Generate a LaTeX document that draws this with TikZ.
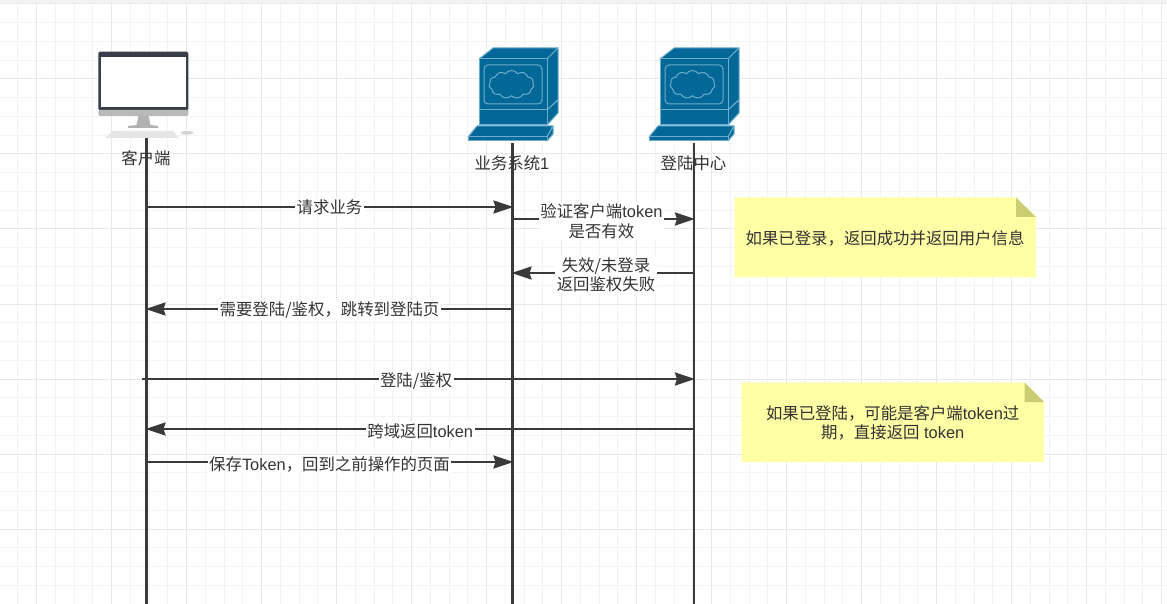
\documentclass[tikz,border=0pt]{standalone}
\usepackage{fontspec}
\setmainfont{Liberation Sans}
\newfontfamily\zhfont{Noto Sans CJK SC}
\newcommand{\zh}[1]{{\zhfont #1}}
\usetikzlibrary{arrows.meta,shapes.symbols}
\definecolor{gridminor}{HTML}{F3F3F3}
\definecolor{gridmajor}{HTML}{E8E8E8}
\definecolor{ink}{HTML}{3A3A3A}
\definecolor{txt}{HTML}{333333}
\definecolor{srv}{HTML}{036897}
\definecolor{srvline}{HTML}{6BADCC}
\definecolor{notefill}{HTML}{FFFFA6}
\definecolor{notefold}{HTML}{CCCC75}
\definecolor{bezel}{HTML}{3A3D4A}
\tikzset{
  gridmin/.style={draw=gridminor,line width=1pt},
  gridmaj/.style={draw=gridmajor,line width=1pt},
  lifeline/.style={draw=ink,line width=2.4pt},
  msg/.style={draw=ink,line width=2.3pt,shorten >=-1pt,-{Stealth[length=20pt,width=13pt,inset=2pt]}},
  msglabel/.style={fill=white,text=txt,align=center,inner sep=1.5pt,font=\fontsize{16.4}{19.5}\selectfont},
  plainlabel/.style={text=txt,align=center,inner sep=0pt,font=\fontsize{16.4}{19.5}\selectfont},
  notebody/.style={fill=notefill},
  notecorner/.style={fill=notefold},
  srvpart/.style={fill=srv,draw=srvline,line width=1pt,line join=round},
  server/.pic={
    \path[srvpart] (479,59) -- (493,48) -- (558,48) -- (547,59) -- cycle;
    \path[srvpart] (547,59) -- (558,48) -- (558,100) -- (547,110) -- cycle;
    \path[srvpart] (479,59) rectangle (547,110);
    \path[srvpart] (547,110) -- (558,100) -- (558,113) -- (547,125) -- cycle;
    \path[srvpart] (479,110) rectangle (547,125);
    \path[srvpart] (468,137) -- (477,126) -- (553,126) -- (547,137) -- cycle;
    \path[srvpart] (547,137) -- (553,126) -- (553,134) -- (547,141) -- cycle;
    \path[srvpart] (468,137) rectangle (547,141);
    \draw[srvline,line width=1pt,rounded corners=4pt] (484,65) rectangle (542,104);
    \node[cloud,cloud puffs=11,cloud puff arc=110,aspect=1.7,draw=srvline,line width=1pt,
      minimum width=45pt,minimum height=28pt,inner sep=0pt] (-cloud) at (511.5,84.5) {};
  },
}
\begin{document}
\begin{tikzpicture}[x=1pt,y=-1pt]
\useasboundingbox (0,0) rectangle (1167,604);
\fill[white] (0,0) rectangle (1167,604);
% grid
\foreach \k in {0,...,62} {\draw[gridmin] ({-0.999+18.75*\k},3) -- ({-0.999+18.75*\k},604);}
\foreach \k in {0,...,31} {\draw[gridmin] (0,{4+18.75*\k}) -- (1167,{4+18.75*\k});}
\foreach \k in {0,...,15} {\draw[gridmaj] ({36.5+75*\k},3) -- ({36.5+75*\k},604);}
\foreach \k in {0,...,8} {\draw[gridmaj] (0,{4+75*\k}) -- (1167,{4+75*\k});}
\fill[gridminor] (0,0) rectangle (1167,3.5);
% client icon
\fill[bezel,rounded corners=1.5pt] (98.3,51.7) rectangle (188.3,110.5);
\fill[white] (101,56.7) rectangle (186,106.7);
\fill[gray!55!white] (98.3,110) -- (188.3,110) -- (188.3,114) [rounded corners=1.5pt] -- (188.3,116) -- (98.3,116) -- (98.3,114) -- cycle;
\fill[gray!60!white] (138.5,116) -- (148.5,116) -- (150.5,125) -- (158,126) -- (158,128) -- (128,128) -- (128,126) -- (136.5,125) -- cycle;
\fill[gray!20!white] (113,131) -- (173,131) -- (179,138) -- (105,138) -- cycle;
\fill[gray!35!white] (187,132.8) ellipse (6.5 and 1.8);
% server icons
\pic (srvA) at (0,0) {server};
\pic (srvB) at (181,0) {server};
% actor labels
\node[plainlabel] (lblClient) at (146,158) {\zh{客户端}};
\node[plainlabel] (lblBiz) at (512,163) {\zh{业务系统}1};
\node[plainlabel] (lblSso) at (693.5,163) {\zh{登陆中心}};
% lifelines
\coordinate (cT) at (146.5,138); \coordinate (cB) at (146.5,604);
\coordinate (bT) at (512.5,143); \coordinate (bB) at (512.5,604);
\coordinate (sT) at (694,143);   \coordinate (sB) at (694,604);
\draw[lifeline] (cT) -- (cB);
\draw[lifeline] (bT) -- (bB);
\draw[lifeline] (sT) -- (sB);
% message anchors
\coordinate (c1) at (146.5,207); \coordinate (b1) at (512.5,207);
\coordinate (b2) at (512.5,219); \coordinate (s2) at (694,219);
\coordinate (s3) at (694,273);   \coordinate (b3) at (512.5,273);
\coordinate (b4) at (512.5,309); \coordinate (c4) at (146.5,309);
\coordinate (c5) at (141.5,379); \coordinate (s5) at (694,379);
\coordinate (s6) at (694,429);   \coordinate (c6) at (146.5,429);
\coordinate (c7) at (146.5,462); \coordinate (b7) at (512.5,462);
% messages
\draw[msg] (c1) -- node[msglabel,pos=0.5] (m1) {\zh{请求业务}} (b1);
\draw[msg] (b2) -- node[msglabel,pos=0.49,yshift=-2pt] (m2) {\zh{验证客户端}token\\\zh{是否有效}} (s2);
\draw[msg] (s3) -- node[msglabel,pos=0.485,yshift=-2pt] (m3) {\zh{失效/未登录}\\\zh{返回鉴权失败}} (b3);
\draw[msg] (b4) -- node[msglabel,pos=0.5,yshift=-1pt] (m4) {\zh{需要登陆/鉴权，跳转到登陆页}} (c4);
\draw[msg] (c5) -- node[msglabel,pos=0.497,yshift=-2pt] (m5) {\zh{登陆/鉴权}} (s5);
\draw[msg] (s6) -- node[msglabel,pos=0.5,yshift=-2pt] (m6) {\zh{跨域返回}token} (c6);
\draw[msg] (c7) -- node[msglabel,pos=0.5,yshift=-2pt] (m7) {\zh{保存}Token\zh{，回到之前操作的页面}} (b7);
% notes
\fill[notebody] (734.7,197.5) -- (1016,197.5) -- (1036,217) -- (1036,277) -- (734.7,277) -- cycle;
\fill[notecorner] (1016,197.5) -- (1036,217) -- (1016,217) -- cycle;
\node[plainlabel] (n1) at (885,238) {\zh{如果已登录，返回成功并返回用户信息}};
\fill[notebody] (741.7,382.5) -- (1024.5,382.5) -- (1044,402) -- (1044,462) -- (741.7,462) -- cycle;
\fill[notecorner] (1024.5,382.5) -- (1044,402) -- (1024.5,402) -- cycle;
\node[plainlabel] (n2) at (892.7,423) {\zh{如果已登陆，可能是客户端}token\zh{过}\\\zh{期，直接返回} token};
\end{tikzpicture}
\end{document}
